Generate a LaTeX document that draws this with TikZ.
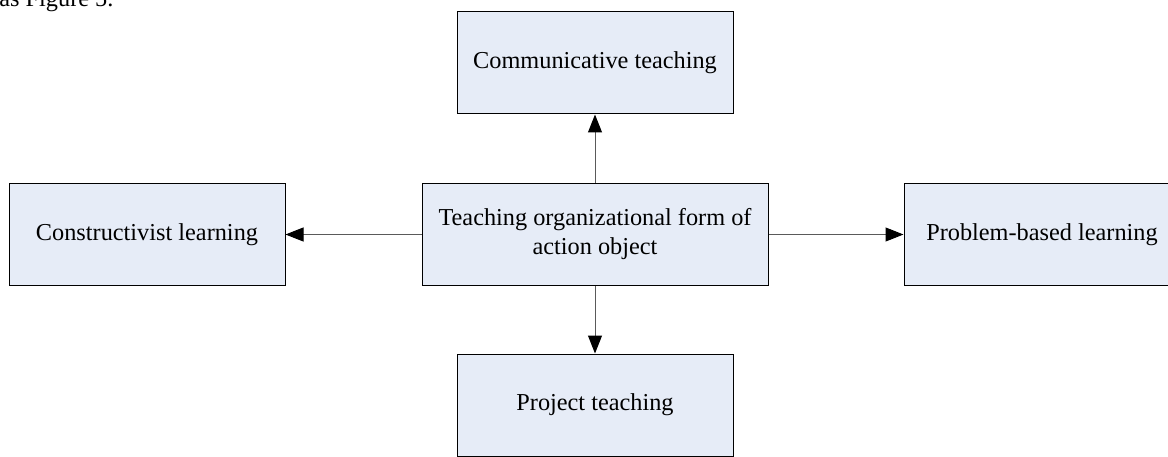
\documentclass[tikz,border=0pt]{standalone}
\usepackage{fontspec}
\setmainfont{Liberation Serif}
\usetikzlibrary{arrows.meta}
\definecolor{boxfill}{HTML}{E6ECF7}
\definecolor{linegray}{HTML}{5A5A5A}

\begin{document}
\begin{tikzpicture}[x=0.5pt, y=0.5pt,
    every node/.style={font=\fontsize{12.15}{14.5}\selectfont},
    formbox/.style={rectangle, draw=black, line width=0.5pt, fill=boxfill,
        minimum width=138pt, minimum height=51pt, inner sep=0pt, align=center},
    link/.style={-{Triangle[length=9pt, width=7pt, black]}, draw=linegray, line width=0.5pt}]
    \useasboundingbox (0, 0) rectangle (1168, 456);

    % Nodes
    \node[anchor=base west, inner sep=0pt] (cap) at (-1, 449) {as Figure 5.};
    \node[formbox, minimum width=173pt] (form) at (595, 221.5)
        {Teaching organizational form of\\action object};
    \node[formbox] (comm) at (595, 393) {Communicative teaching};
    \node[formbox] (cons) at (147, 221.5) {Constructivist learning};
    \node[formbox] (prob) at (1042, 221.5) {Problem-based learning};
    \node[formbox] (proj) at (595, 51) {Project teaching};

    % Edges
    \draw[link] (form) -- (comm);
    \draw[link] (form) -- (cons);
    \draw[link] (form) -- (prob);
    \draw[link] (form) -- (proj);
\end{tikzpicture}
\end{document}
